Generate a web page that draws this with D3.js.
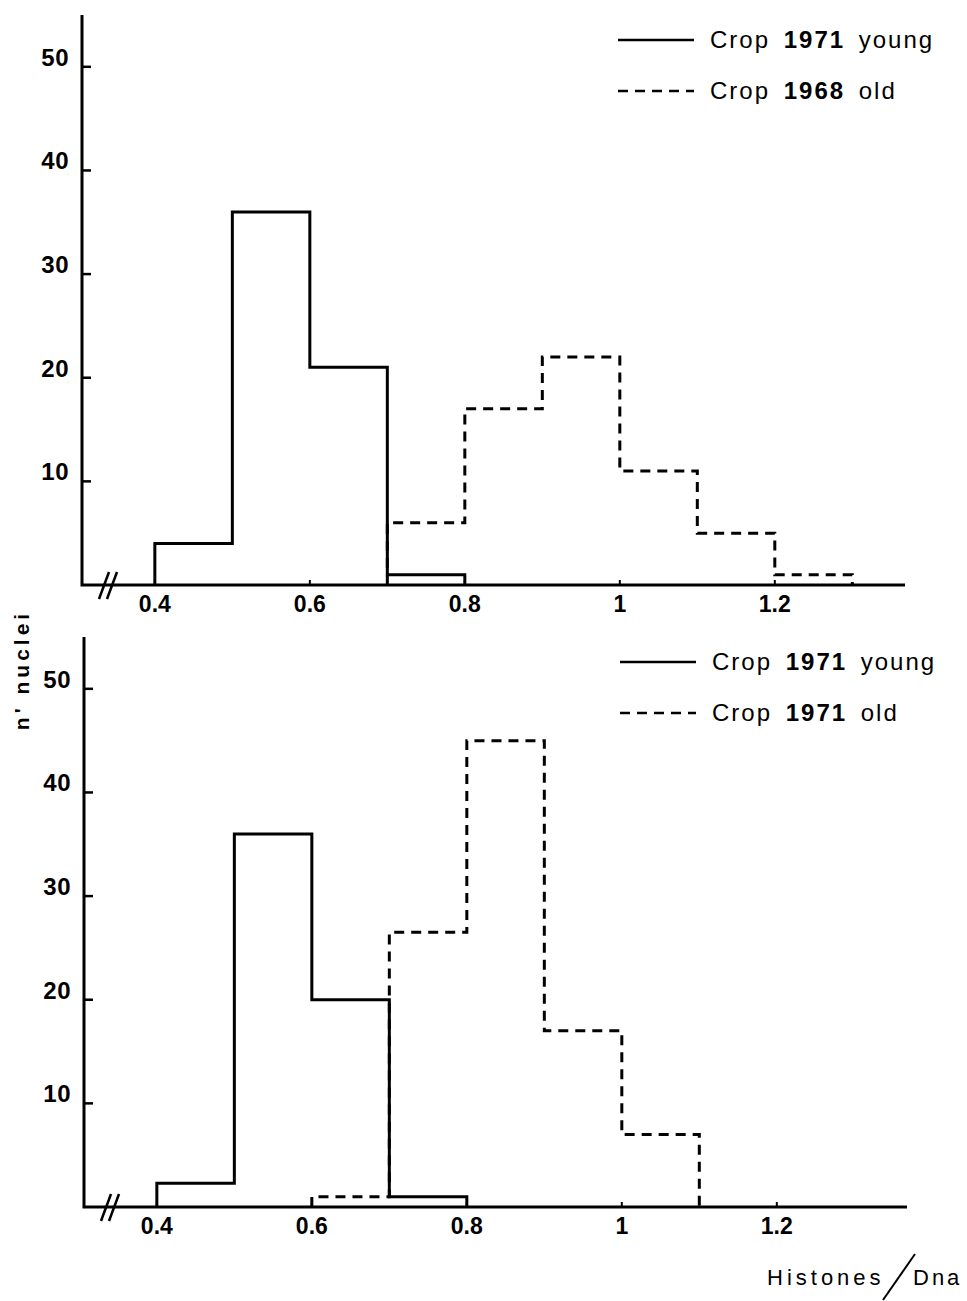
<!DOCTYPE html>
<meta charset="utf-8">
<script src="https://d3js.org/d3.v7.min.js"></script>
<style>
  body { margin: 0; background: #fff; }
  svg text { font-family: "Liberation Sans", Arial, sans-serif; fill: #000; }
</style>
<div id="chart"></div>
<script>
// bin edges (Histones/Dna) and counts of nuclei
var youngEdges = [0.4, 0.5, 0.6, 0.7, 0.8]
var topYoung = [4, 36, 21, 1]
var topOldEdges = [0.7, 0.8, 0.9, 1.0, 1.1, 1.2, 1.3]
var topOld = [6, 17, 22, 11, 5, 1]
var botYoung = [2.3, 36, 20, 1]
var botOldEdges = [0.6, 0.7, 0.8, 0.9, 1.0, 1.1]
var botOld = [1, 26.5, 45, 17, 7]

var yTicks = [10, 20, 30, 40, 50]
var xTicks = [0.4, 0.6, 0.8, 1, 1.2]
var xTickLabels = ["0.4", "0.6", "0.8", "1", "1.2"]
var topLegend = [["Crop ", "1971", " young"], ["Crop ", "1968", " old"]]
var botLegend = [["Crop ", "1971", " young"], ["Crop ", "1971", " old"]]

var width = 967, height = 1301

var svg = d3.select("#chart").append("svg")
    .attr("width", width)
    .attr("height", height)

// draws one histogram panel
function panel(left, bottom, young, oldEdges, old, legend) {
  var x = d3.scaleLinear().domain([0.306, 1.368]).range([left, left + 823])
  var y = d3.scaleLinear().domain([0, 55]).range([bottom, bottom - 570])

  var g = svg.append("g")

  // axes lines
  g.append("path")
    .attr("d", "M" + x(0.306) + "," + y(55) + "V" + y(0) + "H" + x(1.368))
    .attr("fill", "none").attr("stroke", "#000").attr("stroke-width", 3)

  // y ticks and labels
  g.selectAll(".yt").data(yTicks).enter().append("line")
    .attr("x1", x(0.306)).attr("x2", x(0.306) + 9)
    .attr("y1", function(d) { return y(d) }).attr("y2", function(d) { return y(d) })
    .attr("stroke", "#000").attr("stroke-width", 2.5)
  g.selectAll(".yl").data(yTicks).enter().append("text")
    .attr("x", x(0.306) - 13).attr("y", function(d) { return y(d) - 1 })
    .attr("text-anchor", "end")
    .style("font-size", "24px").style("font-weight", "bold").style("letter-spacing", "0.5px")
    .text(function(d) { return d })

  // x ticks and labels
  g.selectAll(".xt").data(xTicks).enter().append("line")
    .attr("x1", function(d) { return x(d) }).attr("x2", function(d) { return x(d) })
    .attr("y1", y(0)).attr("y2", y(0) - 5)
    .attr("stroke", "#000").attr("stroke-width", 2)
  g.selectAll(".xl").data(xTicks).enter().append("text")
    .attr("x", function(d) { return x(d) }).attr("y", y(0) + 27)
    .attr("text-anchor", "middle")
    .style("font-size", "23px").style("font-weight", "bold")
    .text(function(d, i) { return xTickLabels[i] })

  // axis break mark
  var bx = x(0.306) + 22
  ;[0, 8].forEach(function(o) {
    g.append("line")
      .attr("x1", bx + o - 5).attr("y1", y(0) + 14)
      .attr("x2", bx + o + 5).attr("y2", y(0) - 13)
      .attr("stroke", "#000").attr("stroke-width", 2.5)
  })

  // step outline of a histogram
  function stepPath(edges, vals) {
    var p = d3.path()
    p.moveTo(x(edges[0]), y(0))
    vals.forEach(function(v, i) {
      p.lineTo(x(edges[i]), y(v))
      p.lineTo(x(edges[i + 1]), y(v))
    })
    p.lineTo(x(edges[edges.length - 1]), y(0))
    return p.toString()
  }

  g.append("path").attr("d", stepPath(youngEdges, young))
    .attr("fill", "none").attr("stroke", "#000").attr("stroke-width", 3)
  g.append("path").attr("d", stepPath(oldEdges, old))
    .attr("fill", "none").attr("stroke", "#000").attr("stroke-width", 3)
    .attr("stroke-dasharray", "10,7")

  // legend
  legend.forEach(function(item, i) {
    var ly = y(0) - 545 + i * 51
    g.append("line")
      .attr("x1", left + 536).attr("x2", left + 612)
      .attr("y1", ly).attr("y2", ly)
      .attr("stroke", "#000").attr("stroke-width", 2.5)
      .attr("stroke-dasharray", i == 1 ? "10,7" : null)
    var t = g.append("text")
      .attr("x", left + 628).attr("y", ly + 8)
      .style("font-size", "24px").style("letter-spacing", "2px").style("word-spacing", "5px")
    t.append("tspan").text(item[0])
    t.append("tspan").style("font-weight", "bold").text(item[1])
    t.append("tspan").text(item[2])
  })
}

panel(82, 585, topYoung, topOldEdges, topOld, topLegend)
panel(84, 1207, botYoung, botOldEdges, botOld, botLegend)

// y axis title
svg.append("text")
  .attr("transform", "translate(29,670) rotate(-90)")
  .attr("text-anchor", "middle")
  .style("font-size", "21px").style("font-weight", "bold").style("letter-spacing", "4px")
  .text("n' nuclei")

// x axis title
svg.append("text").attr("x", 767).attr("y", 1285)
  .style("font-size", "22px").style("letter-spacing", "4px")
  .text("Histones")
svg.append("line")
  .attr("x1", 883).attr("y1", 1300).attr("x2", 915).attr("y2", 1254)
  .attr("stroke", "#000").attr("stroke-width", 2)
svg.append("text").attr("x", 913).attr("y", 1285)
  .style("font-size", "22px").style("letter-spacing", "3px")
  .text("Dna")
</script>
